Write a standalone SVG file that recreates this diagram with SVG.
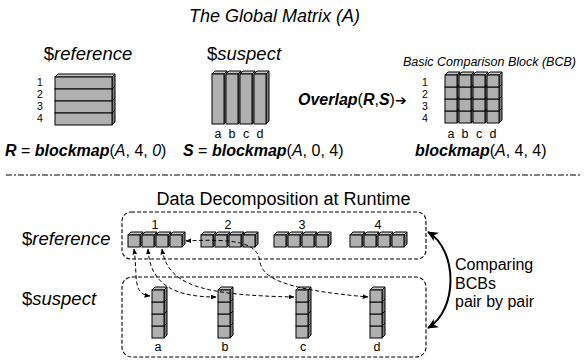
<svg xmlns="http://www.w3.org/2000/svg" xmlns:xlink="http://www.w3.org/1999/xlink" width="585" height="360" viewBox="0 0 585 360">
<style>
text{font-family:"Liberation Sans","DejaVu Sans",Arial,sans-serif;fill:#000}
.i{font-style:italic}
.b{font-weight:bold}
.bi{font-weight:bold;font-style:italic}
.fr{fill:#b0b0b0;stroke:#000;stroke-width:1}
.tp{fill:#c4c4c4;stroke:#000;stroke-width:1}
.sd{fill:#7c7c7c;stroke:#000;stroke-width:1}
.box{fill:none;stroke:#000;stroke-width:1.1;stroke-dasharray:4 2}
.con{fill:none;stroke:#000;stroke-width:1;stroke-dasharray:4 2.5}
.lbl{font-size:12.5px}
.num{font-size:10.5px}
</style>
<defs>
<g id="cube">
<polygon class="tp" points="0,0 3,-3 15,-3 12,0"/>
<polygon class="sd" points="12,0 15,-3 15,9 12,12"/>
<rect class="fr" x="0" y="0" width="12" height="12"/>
</g>
<g id="col">
<polygon class="tp" points="0,0 3,-3 15,-3 12,0"/>
<polygon class="sd" points="12,0 15,-3 15,47 12,50"/>
<rect class="fr" x="0" y="0" width="12" height="50"/>
</g>
<g id="slab">
<polygon class="sd" points="57,0 60,-3 60,9 57,12"/>
<rect class="fr" x="0" y="0" width="57" height="12"/>
</g>
<g id="row4">
<use xlink:href="#cube" x="0" y="0"/>
<use xlink:href="#cube" x="14" y="0"/>
<use xlink:href="#cube" x="28" y="0"/>
<use xlink:href="#cube" x="42" y="0"/>
</g>
<g id="stack4">
<use xlink:href="#cube" x="0" y="36"/>
<use xlink:href="#cube" x="0" y="24"/>
<use xlink:href="#cube" x="0" y="12"/>
<use xlink:href="#cube" x="0" y="0"/>
</g>
<marker id="ah" viewBox="0 0 10 10" refX="9" refY="5" markerWidth="6" markerHeight="6" markerUnits="userSpaceOnUse" orient="auto-start-reverse"><path d="M0,1 L10,5 L0,9 z" fill="#000"/></marker>
<marker id="ahb" viewBox="0 0 10 10" refX="9" refY="5" markerWidth="11" markerHeight="11" markerUnits="userSpaceOnUse" orient="auto-start-reverse"><path d="M0,0.5 L10,5 L0,9.5 L3,5 z" fill="#000"/></marker>
</defs>

<text x="274.5" y="22" class="i" font-size="18" text-anchor="middle">The Global Matrix (A)</text>

<g id="reference-matrix">
<text x="88" y="60" font-size="18.5" text-anchor="middle">$<tspan class="i">reference</tspan></text>
<polygon class="tp" points="55,77 58,74 115,74 112,77"/>
<use xlink:href="#slab" x="55" y="77"/>
<use xlink:href="#slab" x="55" y="89"/>
<use xlink:href="#slab" x="55" y="101"/>
<use xlink:href="#slab" x="55" y="113"/>
<g class="num" text-anchor="middle">
<text x="40" y="86">1</text><text x="40" y="98">2</text><text x="40" y="110">3</text><text x="40" y="122">4</text>
</g>
<text x="5" y="156" font-size="16"><tspan class="bi">R</tspan> = <tspan class="bi">blockmap</tspan>(<tspan class="i">A</tspan>, 4, <tspan class="i">0</tspan>)</text>
</g>

<g id="suspect-matrix">
<text x="244" y="60" font-size="18.5" text-anchor="middle">$<tspan class="i">suspect</tspan></text>
<use xlink:href="#col" x="212" y="74"/>
<use xlink:href="#col" x="226" y="74"/>
<use xlink:href="#col" x="240" y="74"/>
<use xlink:href="#col" x="254" y="74"/>
<g class="lbl" text-anchor="middle">
<text x="218" y="138">a</text><text x="232" y="138">b</text><text x="246" y="138">c</text><text x="260" y="138">d</text>
</g>
<text x="183" y="156" font-size="16"><tspan class="bi">S</tspan> = <tspan class="bi">blockmap</tspan>(<tspan class="i">A</tspan>, 0, 4)</text>
</g>

<g id="overlap">
<text x="298" y="105" font-size="16"><tspan class="bi">Overlap</tspan>(<tspan class="bi">R</tspan>,<tspan class="bi">S</tspan>)<tspan font-family="DejaVu Sans,sans-serif" font-size="14">➔</tspan></text>
</g>

<g id="bcb">
<text x="403" y="66" class="i" font-size="12.5">Basic Comparison Block (BCB)</text>
<use xlink:href="#stack4" x="445" y="75"/>
<use xlink:href="#stack4" x="459" y="75"/>
<use xlink:href="#stack4" x="473" y="75"/>
<use xlink:href="#stack4" x="487" y="75"/>
<g class="num" text-anchor="middle">
<text x="425" y="86">1</text><text x="425" y="98">2</text><text x="425" y="110">3</text><text x="425" y="122">4</text>
</g>
<g class="lbl" text-anchor="middle">
<text x="451" y="138">a</text><text x="465" y="138">b</text><text x="479" y="138">c</text><text x="493" y="138">d</text>
</g>
<text x="415" y="156" font-size="16"><tspan class="bi">blockmap</tspan>(<tspan class="i">A</tspan>, 4, 4)</text>
</g>

<line x1="6" y1="175" x2="580" y2="175" stroke="#000" stroke-width="1.2" stroke-dasharray="6 2 2 2"/>

<text x="283.5" y="205" font-size="18" text-anchor="middle">Data Decomposition at Runtime</text>

<g id="reference-row">
<text x="22" y="245" font-size="18.5">$<tspan class="i">reference</tspan></text>
<rect class="box" x="122" y="212" width="304" height="47" rx="9"/>
<use xlink:href="#row4" x="128" y="235"/>
<use xlink:href="#row4" x="201" y="235"/>
<use xlink:href="#row4" x="274" y="235"/>
<use xlink:href="#row4" x="350" y="235"/>
<g class="lbl" text-anchor="middle">
<text x="155" y="229">1</text><text x="228" y="229">2</text><text x="302" y="229">3</text><text x="378" y="229">4</text>
</g>
</g>

<g id="suspect-row">
<text x="22" y="305" font-size="18.5">$<tspan class="i">suspect</tspan></text>
<rect class="box" x="122" y="277" width="304" height="80" rx="10"/>
<use xlink:href="#stack4" x="152" y="290"/>
<use xlink:href="#stack4" x="218" y="290"/>
<use xlink:href="#stack4" x="296" y="290"/>
<use xlink:href="#stack4" x="370" y="290"/>
<g class="lbl" text-anchor="middle">
<text x="158" y="351">a</text><text x="225" y="351">b</text><text x="303" y="351">c</text><text x="377" y="351">d</text>
</g>
</g>

<g id="connectors">
<path class="con" d="M134,249 C138,278 132,294 150,296" marker-start="url(#ah)" marker-end="url(#ah)"/>
<path class="con" d="M148,249 C150,285 175,297 216,297" marker-start="url(#ah)" marker-end="url(#ah)"/>
<path class="con" d="M162,249 C168,285 200,295 294,297" marker-start="url(#ah)" marker-end="url(#ah)"/>
<path class="con" d="M186,241 C240,238 258,244 260,262 C263,280 290,290 368,297" marker-start="url(#ah)" marker-end="url(#ah)"/>
<path d="M428,232 C458,250 458,310 428,328" fill="none" stroke="#000" stroke-width="2" marker-start="url(#ahb)" marker-end="url(#ahb)"/>
</g>

<g id="comparing-label" font-size="16">
<text x="455" y="270">Comparing</text>
<text x="455" y="289">BCBs</text>
<text x="455" y="307">pair by pair</text>
</g>
</svg>
